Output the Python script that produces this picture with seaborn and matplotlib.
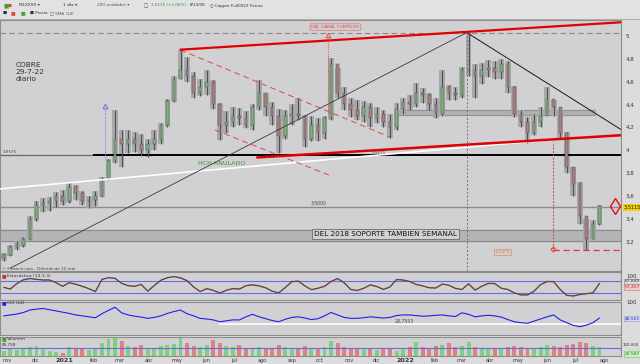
import numpy as np
import pandas as pd
import matplotlib
matplotlib.use("Agg")
import matplotlib.pyplot as plt
import matplotlib.dates as mdates
import seaborn as sns

sns.set_theme(style="white")
plt.rcParams['font.family'] = ['DejaVu Sans']

# ---------------- data (weekly) ----------------
week_end = pd.date_range("2020-10-30", periods=92, freq="7D")
high = [3.10, 3.17, 3.20, 3.24, 3.42, 3.55, 3.58, 3.59, 3.63, 3.65,
        3.71, 3.69, 3.64, 3.60, 3.64, 3.76, 3.92, 4.35, 4.18, 4.18,
        4.16, 4.14, 4.10, 4.18, 4.24, 4.45, 4.65, 4.88, 4.82, 4.68,
        4.62, 4.70, 4.61, 4.41, 4.34, 4.38, 4.37, 4.34, 4.40, 4.61,
        4.50, 4.42, 4.36, 4.35, 4.40, 4.46, 4.31, 4.30, 4.28, 4.30,
        4.81, 4.72, 4.55, 4.46, 4.44, 4.43, 4.41, 4.38, 4.35, 4.32,
        4.41, 4.46, 4.48, 4.59, 4.54, 4.50, 4.46, 4.70, 4.57, 4.55,
        4.73, 5.03, 4.75, 4.76, 4.79, 4.78, 4.80, 4.78, 4.56, 4.35,
        4.29, 4.32, 4.38, 4.55, 4.44, 4.35, 4.16, 3.85, 3.72, 3.40,
        3.39, 3.52]
low = [3.03, 3.07, 3.12, 3.15, 3.21, 3.38, 3.46, 3.47, 3.50, 3.52,
       3.54, 3.56, 3.52, 3.49, 3.51, 3.59, 3.74, 3.89, 3.85, 3.97,
       3.98, 3.95, 3.94, 4.00, 4.05, 4.20, 4.42, 4.62, 4.60, 4.46,
       4.47, 4.48, 4.36, 4.09, 4.15, 4.20, 4.22, 4.19, 4.18, 4.35,
       4.30, 4.22, 3.97, 4.10, 4.22, 4.26, 4.03, 4.08, 4.08, 4.10,
       4.26, 4.46, 4.35, 4.29, 4.26, 4.25, 4.20, 4.24, 4.20, 4.11,
       4.18, 4.32, 4.35, 4.38, 4.41, 4.35, 4.28, 4.30, 4.44, 4.44,
       4.46, 4.65, 4.46, 4.58, 4.64, 4.62, 4.62, 4.50, 4.29, 4.20,
       4.06, 4.13, 4.20, 4.32, 4.30, 4.10, 3.80, 3.60, 3.35, 3.12,
       3.22, 3.34]
close = [3.08, 3.15, 3.17, 3.22, 3.40, 3.52, 3.54, 3.55, 3.60, 3.55,
         3.68, 3.62, 3.55, 3.56, 3.60, 3.75, 3.90, 4.10, 4.05, 4.10,
         4.05, 4.00, 4.05, 4.10, 4.22, 4.43, 4.62, 4.70, 4.65, 4.50,
         4.55, 4.60, 4.40, 4.22, 4.25, 4.30, 4.28, 4.22, 4.38, 4.50,
         4.38, 4.30, 4.12, 4.30, 4.32, 4.30, 4.10, 4.22, 4.15, 4.28,
         4.75, 4.50, 4.40, 4.35, 4.30, 4.38, 4.28, 4.32, 4.25, 4.20,
         4.36, 4.42, 4.40, 4.50, 4.48, 4.40, 4.32, 4.55, 4.50, 4.48,
         4.70, 4.70, 4.65, 4.70, 4.72, 4.68, 4.75, 4.55, 4.32, 4.25,
         4.15, 4.25, 4.30, 4.45, 4.38, 4.15, 3.85, 3.70, 3.42, 3.22,
         3.35, 3.5115]
first_open = 3.05
stoch = [48, 40, 66, 84, 90, 86, 83, 83, 70, 53,
         70, 63, 53, 42, 28, 86, 94, 91, 67, 56,
         53, 62, 30, 57, 82, 94, 99, 93, 80, 50,
         28, 42, 34, 21, 34, 42, 40, 56, 60, 55,
         46, 30, 22, 47, 75, 78, 55, 37, 44, 53,
         76, 90, 70, 38, 33, 44, 60, 52, 38, 50,
         85, 83, 76, 62, 55, 46, 45, 64, 58, 43,
         38, 65, 35, 53, 67, 66, 44, 38, 22, 12,
         12, 30, 61, 76, 75, 38, 10, 7, 14, 18,
         22, 67]
cci = [55, 58, 61, 66, 74, 77, 79, 75, 71, 67,
       63, 58, 55, 52, 49, 62, 73, 83, 65, 58,
       54, 51, 47, 50, 55, 63, 69, 74, 62, 55,
       47, 45, 42, 36, 39, 42, 42, 52, 60, 52,
       46, 40, 36, 44, 50, 52, 48, 43, 46, 55,
       66, 58, 50, 47, 47, 49, 52, 50, 48, 50,
       56, 58, 58, 56, 54, 55, 57, 58, 55, 53,
       65, 60, 52, 55, 57, 55, 51, 43, 36, 33,
       31, 38, 45, 52, 58, 42, 33, 24, 20, 25,
       33, 48]
volume = [70, 80, 75, 85, 90, 95, 80, 70, 65, 60,
          90, 85, 80, 75, 85, 110, 130, 140, 120, 95,
          90, 100, 85, 80, 95, 100, 105, 135, 110, 95,
          90, 100, 125, 110, 95, 90, 100, 85, 80, 90,
          85, 80, 100, 90, 85, 80, 95, 85, 80, 90,
          120, 110, 90, 85, 80, 85, 80, 75, 80, 85,
          70, 80, 90, 115, 90, 85, 95, 100, 110, 90,
          95, 115, 90, 85, 80, 80, 85, 90, 95, 90,
          85, 80, 90, 100, 95, 90, 100, 105, 115, 110,
          95, 90]

month_ticks = ["2020-11-01", "2020-12-01", "2021-01-01", "2021-02-01", "2021-03-01",
               "2021-04-01", "2021-05-01", "2021-06-01", "2021-07-01", "2021-08-01",
               "2021-09-01", "2021-10-01", "2021-11-01", "2021-12-01", "2022-01-01",
               "2022-02-01", "2022-03-01", "2022-04-01", "2022-05-01", "2022-06-01",
               "2022-07-01", "2022-08-01"]
month_labels = ["nov", "dic", "2021", "feb", "mar", "abr", "may", "jun", "jul", "ago",
                "sep", "oct", "nov", "dic", "2022", "feb", "mar", "abr", "may", "jun",
                "jul", "ago"]
price_ticks = [3.2, 3.4, 3.6, 3.8, 4.0, 4.2, 4.4, 4.6, 4.8, 5.0]

# annotation geometry (date, price)
red_top = (("2021-05-05", 4.88), ("2022-08-19", 5.12))
red_bottom = (("2021-07-26", 3.935), ("2022-08-19", 4.13))
white_line = (("2020-10-24", 3.66), ("2022-06-17", 4.10))
diag_up = (("2020-11-04", 2.965), ("2022-03-07", 5.03))
diag_down = (("2022-03-07", 5.03), ("2022-08-19", 4.18))
dash_upper = (("2021-05-05", 4.877), ("2021-12-15", 4.114))
dash_lower = (("2021-06-11", 4.175), ("2021-10-11", 3.78))
neck = 3.9575
support = 3.5
band_low = (3.20, 3.30)
band_mid = (4.307, 4.35, "2021-12-22", "2022-07-22")
top_dash = 5.03
last_price = 3.5115

D = lambda s: mdates.date2num(pd.Timestamp(s))
X0, X1 = D("2020-10-24"), D("2022-08-19")

# ---------------- figure ----------------
W, H = 640, 364
fig = plt.figure(figsize=(6.4, 3.64), dpi=100, facecolor="#dcdcdc")


def fr(x0, y0, x1, y1):
    return [x0 / W, 1 - y1 / H, (x1 - x0) / W, (y1 - y0) / H]


def ftext(x, y, s, **kw):
    kw.setdefault("fontsize", 4)
    kw.setdefault("va", "center")
    return fig.text(x / W, 1 - y / H, s, **kw)


bg = "#d1d1d3"
axp = fig.add_axes(fr(0, 20, 621, 271))
axs = fig.add_axes(fr(0, 272, 621, 300), sharex=axp)
axc = fig.add_axes(fr(0, 302, 621, 335), sharex=axp)
axv = fig.add_axes(fr(0, 337, 621, 356), sharex=axp)
for a in (axp, axs, axc, axv):
    a.set_facecolor(bg)
    for sp in a.spines.values():
        sp.set_color("#8c8c8c")
        sp.set_linewidth(0.8)
    a.tick_params(axis="both", length=0, labelsize=4, colors="#333333")
    a.yaxis.tick_right()

# ---- price candles ----
centers = mdates.date2num(week_end) - 2
opens = np.array([first_open] + close[:-1])
cl = np.array(close)
up = cl >= opens
# weekly range cloud (mimics the dense daily candles)
axp.bar(centers, np.array(high) - np.array(low), bottom=low, width=6.2,
        color="#a9a9ab", linewidth=0, zorder=2)
axp.vlines(centers, low, high, color="#505050", lw=0.8, zorder=3)
axp.bar(centers, np.maximum(np.abs(cl - opens), 0.006), bottom=np.minimum(cl, opens),
        width=2.8, color=np.where(up, "#79b379", "#a98080"), edgecolor="#4a4a4a",
        linewidth=0.3, zorder=4)

# bands / levels
axp.axhspan(*band_low, color="#b4b4b6", zorder=1)
axp.axhline(band_low[0], color="#8a8a8a", lw=0.8, zorder=1)
axp.axhline(band_low[1], color="#8a8a8a", lw=0.8, zorder=1)
axp.fill_between([D(band_mid[2]), D(band_mid[3])], band_mid[0], band_mid[1],
                 color="#b0b0b2", zorder=1)
axp.hlines([band_mid[0], band_mid[1]], D(band_mid[2]), D(band_mid[3]), color="#8a8a8a", lw=0.6, zorder=1)
axp.axhline(support, color="#8a8a8a", lw=1.0, zorder=1)
axp.text(D("2021-09-21"), support + 0.015, "3,5000", fontsize=3.3, color="#444", va="bottom")
axp.axhline(top_dash, color="#8a8a8a", lw=0.8, ls=(0, (5, 3)), zorder=1)
axp.hlines(neck, X0, D("2021-01-31"), color="#666666", lw=0.9, zorder=2)
axp.hlines(neck, D("2021-01-31"), X1, color="black", lw=1.4, zorder=2)
axp.text(X0 + 3, neck + 0.01, "3,9575", fontsize=3, color="#444", va="bottom")
axp.text(D("2021-11-25"), neck + 0.003, "3,9575", fontsize=3, color="#444", va="bottom")


def seg(ax, line, **kw):
    (d0, p0), (d1, p1) = line
    ax.plot([D(d0), D(d1)], [p0, p1], **kw)


seg(axp, white_line, color="white", lw=1.2, zorder=5)
seg(axp, diag_up, color="#3a3a3a", lw=0.6, zorder=5)
seg(axp, diag_down, color="#1a1a1a", lw=0.7, zorder=5)
seg(axp, dash_upper, color="#e04848", lw=0.7, ls=(0, (6, 4)), zorder=5)
seg(axp, dash_lower, color="#e04848", lw=0.7, ls=(0, (6, 4)), zorder=5)
seg(axp, red_top, color="#e00000", lw=1.6, zorder=6)
seg(axp, red_bottom, color="#e00000", lw=1.8, zorder=6)

# vertical markers
axp.vlines(D("2021-02-13"), 3.91, 4.37, color="#7a7aee", lw=0.8, ls=(0, (1, 1.2)), zorder=6)
axp.plot(D("2021-02-13"), 4.385, marker="^", ms=3.5, mfc="none", mec="#6a6ae8", mew=0.7, zorder=7)
axp.vlines(D("2021-10-10"), 4.325, 5.0, color="#e05050", lw=0.8, ls=(0, (1, 1.2)), zorder=6)
axp.plot(D("2021-10-10"), 5.01, marker="^", ms=3.5, mfc="none", mec="#e05050", mew=0.7, zorder=7)
axp.vlines(D("2022-03-07"), 2.94, 5.03, color="#707070", lw=0.7, ls=(0, (2, 2)), zorder=6)
axp.vlines(D("2022-06-07"), 3.13, 4.07, color="#e03a3a", lw=0.8, ls=(0, (1.5, 1.5)), zorder=6)
axp.plot(D("2022-06-07"), 3.135, marker="D", ms=2.5, mfc="none", mec="#e03a3a", mew=0.7, zorder=7)
axp.hlines(3.12, D("2022-06-07"), X1, color="#e03a3a", lw=0.9, ls=(0, (5, 3)), zorder=6)
axp.plot(D("2022-08-13"), last_price, marker="d", ms=8, mfc="none", mec="#e01010", mew=1.0, zorder=7)

# texts on price panel
axp.text(D("2020-11-10"), 4.77, "COBRE\n29-7-22\ndiario", fontsize=5.3, color="#333",
         va="top", linespacing=1.15)
axp.text(D("2021-09-22"), 5.078, "OBJ. CANAL CUMPLIDO", fontsize=3.1, color="#e04040",
         va="center", bbox=dict(boxstyle="round,pad=0.3", fc=bg, ec="#e08080", lw=0.6))
axp.text(D("2021-05-24"), 3.885, "HCH ANULADO", fontsize=4.6, color="#2f9a2f", va="center")
axp.text(D("2021-09-25"), 3.265, "DEL 2018 SOPORTE TAMBIEN SEMANAL", fontsize=5.2, color="#111",
         va="center", bbox=dict(boxstyle="square,pad=0.25", fc=bg, ec="#6a6a6a", lw=0.6))
axp.text(D("2022-04-07"), 3.105, "61,8 %", fontsize=3.0, color="#e07a40", va="center",
         bbox=dict(boxstyle="square,pad=0.3", fc=bg, ec="#e09a70", lw=0.6))

axp.set_ylim(2.94, 5.14)
axp.set_yticks(price_ticks)
axp.set_yticklabels([("%g" % t).replace(".", ",") for t in price_ticks])
axp.set_xlim(X0, X1)

# ---- stochastic ----
df = pd.DataFrame({"date": mdates.date2num(week_end) - 2, "stoch": stoch, "cci": cci, "vol": volume})
axs.axhline(80, color="#6a6ae6", lw=0.8)
axs.axhline(20, color="#6a6ae6", lw=0.8)
sns.lineplot(data=df, x="date", y="stoch", ax=axs, color="#8a5252", lw=1.0)
sns.lineplot(data=df, x="date", y="stoch", ax=axs, color="#3a3a3a", lw=0.35)
axs.set_ylim(-12, 121)
axs.set_yticks([100])
axs.set_yticklabels(["100"])

# ---- CCI ----
axc.axhline(28.7553, color="white", lw=1.2, xmin=(D("2021-06-15") - X0) / (X1 - X0))
sns.lineplot(data=df, x="date", y="cci", ax=axc, color="#2020ee", lw=0.8)
axc.text(D("2021-12-20"), 29.5, "28,7553", fontsize=3.3, color="#444", va="bottom")
axc.set_ylim(-7, 100)
axc.set_yticks([100])
axc.set_yticklabels(["100"])

# ---- volume ----
axv.bar(df["date"], df["vol"], width=4.2, color=np.where(up, "#7ed07e", "#dc8282"), linewidth=0)
axv.axhline(85.758, color="#6a6ae6", lw=0.8)
axv.set_ylim(47, 140)
axv.set_yticks([])

for a in (axp, axs, axc, axv):
    a.set_xlabel("")
    a.set_ylabel("")
for a in (axp, axs, axc):
    plt.setp(a.get_xticklabels(), visible=False)
axv.set_xticks([D(m) for m in month_ticks])
axv.set_xticklabels(month_labels)
axv.tick_params(axis="x", labelsize=3.6, pad=1.5)
for t in axv.get_xticklabels():
    if t.get_text().startswith("20"):
        t.set_fontweight("bold")
        t.set_fontsize(4.6)
axv.set_xlim(X0, X1)

# ---- panel labels ----
ftext(2, 268.5, "© Finance.com - Diferido de 10 min", fontsize=3.0, color="#444")
ftext(2, 276, "■", color="#c03030", fontsize=3.5)
ftext(7, 276, "Estocástico (14-3-3)", fontsize=3.2, color="#333")
ftext(2, 303, "■", color="#2020ee", fontsize=3.5)
ftext(7, 303, "CCI (14)", fontsize=3.2, color="#333")
ftext(2, 339, "■", color="#3aa03a", fontsize=3.5)
ftext(7, 339, "Volumen", fontsize=3.2, color="#333")
ftext(2, 344.5, "85.758", fontsize=3.0, color="#333")

# ---- right value boxes ----
ftext(623, 345, "100.000", fontsize=2.8, color="#333")
ftext(624, 207, "3,5115", fontsize=3.6, color="#111",
      bbox=dict(boxstyle="square,pad=0.2", fc="#f2d200", ec="none"))
ftext(625, 281.5, "67.849", fontsize=3.2, color="#333",
      bbox=dict(boxstyle="square,pad=0.15", fc="#d8d8d8", ec="#8a8a8a", lw=0.4))
ftext(625, 287, "57,467", fontsize=3.2, color="#c03030",
      bbox=dict(boxstyle="square,pad=0.15", fc="#f2c8c8", ec="#d07070", lw=0.4))
ftext(625, 318.5, "48,565", fontsize=3.2, color="#3030c0",
      bbox=dict(boxstyle="square,pad=0.15", fc="#d8d8f0", ec="#9090d0", lw=0.4))
ftext(625, 354, "20.587", fontsize=3.2, color="#208020",
      bbox=dict(boxstyle="square,pad=0.15", fc="#c8eec8", ec="#70c070", lw=0.4))

# ---- top toolbar ----
fig.patches.append(plt.Rectangle((0, 1 - 19 / H), 1, 19 / H, transform=fig.transFigure,
                                 fc="#e2e2e2", ec="none", zorder=0))
fig.add_artist(plt.Line2D([0, 1], [1 - 19 / H, 1 - 19 / H], transform=fig.transFigure,
                          color="#b0b0b0", lw=0.8))
ftext(3, 5.5, "■", color="#3aa03a", fontsize=4)
ftext(8, 5.5, "■", color="#e04040", fontsize=3)
ftext(19, 5.5, "MLXXXX ▾", fontsize=3.1, color="#333")
ftext(63, 5.5, "1 día ▾", fontsize=3.1, color="#333")
ftext(97, 5.5, "200 unidades ▾", fontsize=3.1, color="#555")
ftext(144, 5.5, "□", fontsize=3.3, color="#555")
ftext(151, 5.5, "3,5115 (+1,06%)", fontsize=3.0, color="#2a9a2a")
ftext(190, 5.5, "8/13/08", fontsize=3.0, color="#333")
ftext(210, 5.5, "○ Copper Full0922 Future", fontsize=3.0, color="#333")
ftext(3, 13, "■", color="#333", fontsize=3.2)
ftext(11, 13, "■", color="#e04040", fontsize=3.6)
ftext(21, 13, "■", color="#3aa03a", fontsize=3.6)
ftext(30, 13, "■ Precio", fontsize=3.0, color="#333")
ftext(50, 13, "□ SMA (14)", fontsize=3.0, color="#555")

fig.savefig("out.png", dpi=100, facecolor=fig.get_facecolor())
